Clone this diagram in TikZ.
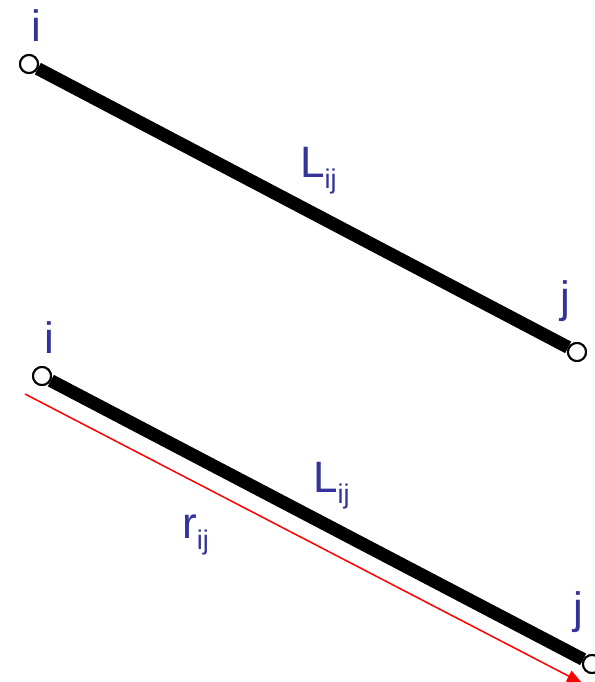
\documentclass[tikz,border=0pt]{standalone}
\usepackage{fontspec}
\setmainfont{Liberation Sans}
\usetikzlibrary{arrows.meta}
\definecolor{lblcol}{RGB}{51, 51, 153}
\definecolor{veccol}{RGB}{255, 0, 0}
\newcommand{\sub}[1]{\raisebox{-0.27em}{\fontsize{27}{30}\selectfont #1}}

\begin{document}
\begin{tikzpicture}[
  x=1pt, y=-1pt,
  >={Triangle[length=15pt,width=12pt]},
  vtx/.style={circle,draw=black,fill=white,line width=2pt,
              minimum size=18pt,inner sep=0pt},
  bar/.style={line width=13pt,black},
  lbl/.style={text=lblcol,inner sep=0pt,font=\fontsize{44}{48}\selectfont},
  vec/.style={->,veccol,line width=1.5pt},
]
  \useasboundingbox (0,0) rectangle (594,682);

  % --- upper element ---
  \node[vtx] (ia) at (29,64) {};
  \node[vtx] (ja) at (577,352) {};
  \draw[bar] (ia) -- (ja);
  \node[vtx] at (ia) {};
  \node[vtx] at (ja) {};
  \node[lbl,anchor=base] (tia) at (36,42) {i};
  \node[lbl,anchor=base] (tja) at (565,312) {j};
  \node[lbl,anchor=base west] (tla) at (300,177) {L\sub{ij}};

  % --- lower element ---
  \node[vtx] (ib) at (42,376) {};
  \node[vtx] (jb) at (592,664) {};
  \draw[bar] (ib) -- (jb);
  \node[vtx] at (ib) {};
  \node[vtx] at (jb) {};
  \node[lbl,anchor=base] (tib) at (49,353) {i};
  \node[lbl,anchor=base] (tjb) at (578,623) {j};
  \node[lbl,anchor=base west] (tlb) at (313,492) {L\sub{ij}};

  % --- vector r_ij ---
  \coordinate (ra) at (25,394);
  \coordinate (rb) at (582,683);
  \draw[vec] (ra) -- (rb);
  \node[lbl,anchor=base west] (trb) at (182,538) {r\sub{ij}};

\end{tikzpicture}
\end{document}
